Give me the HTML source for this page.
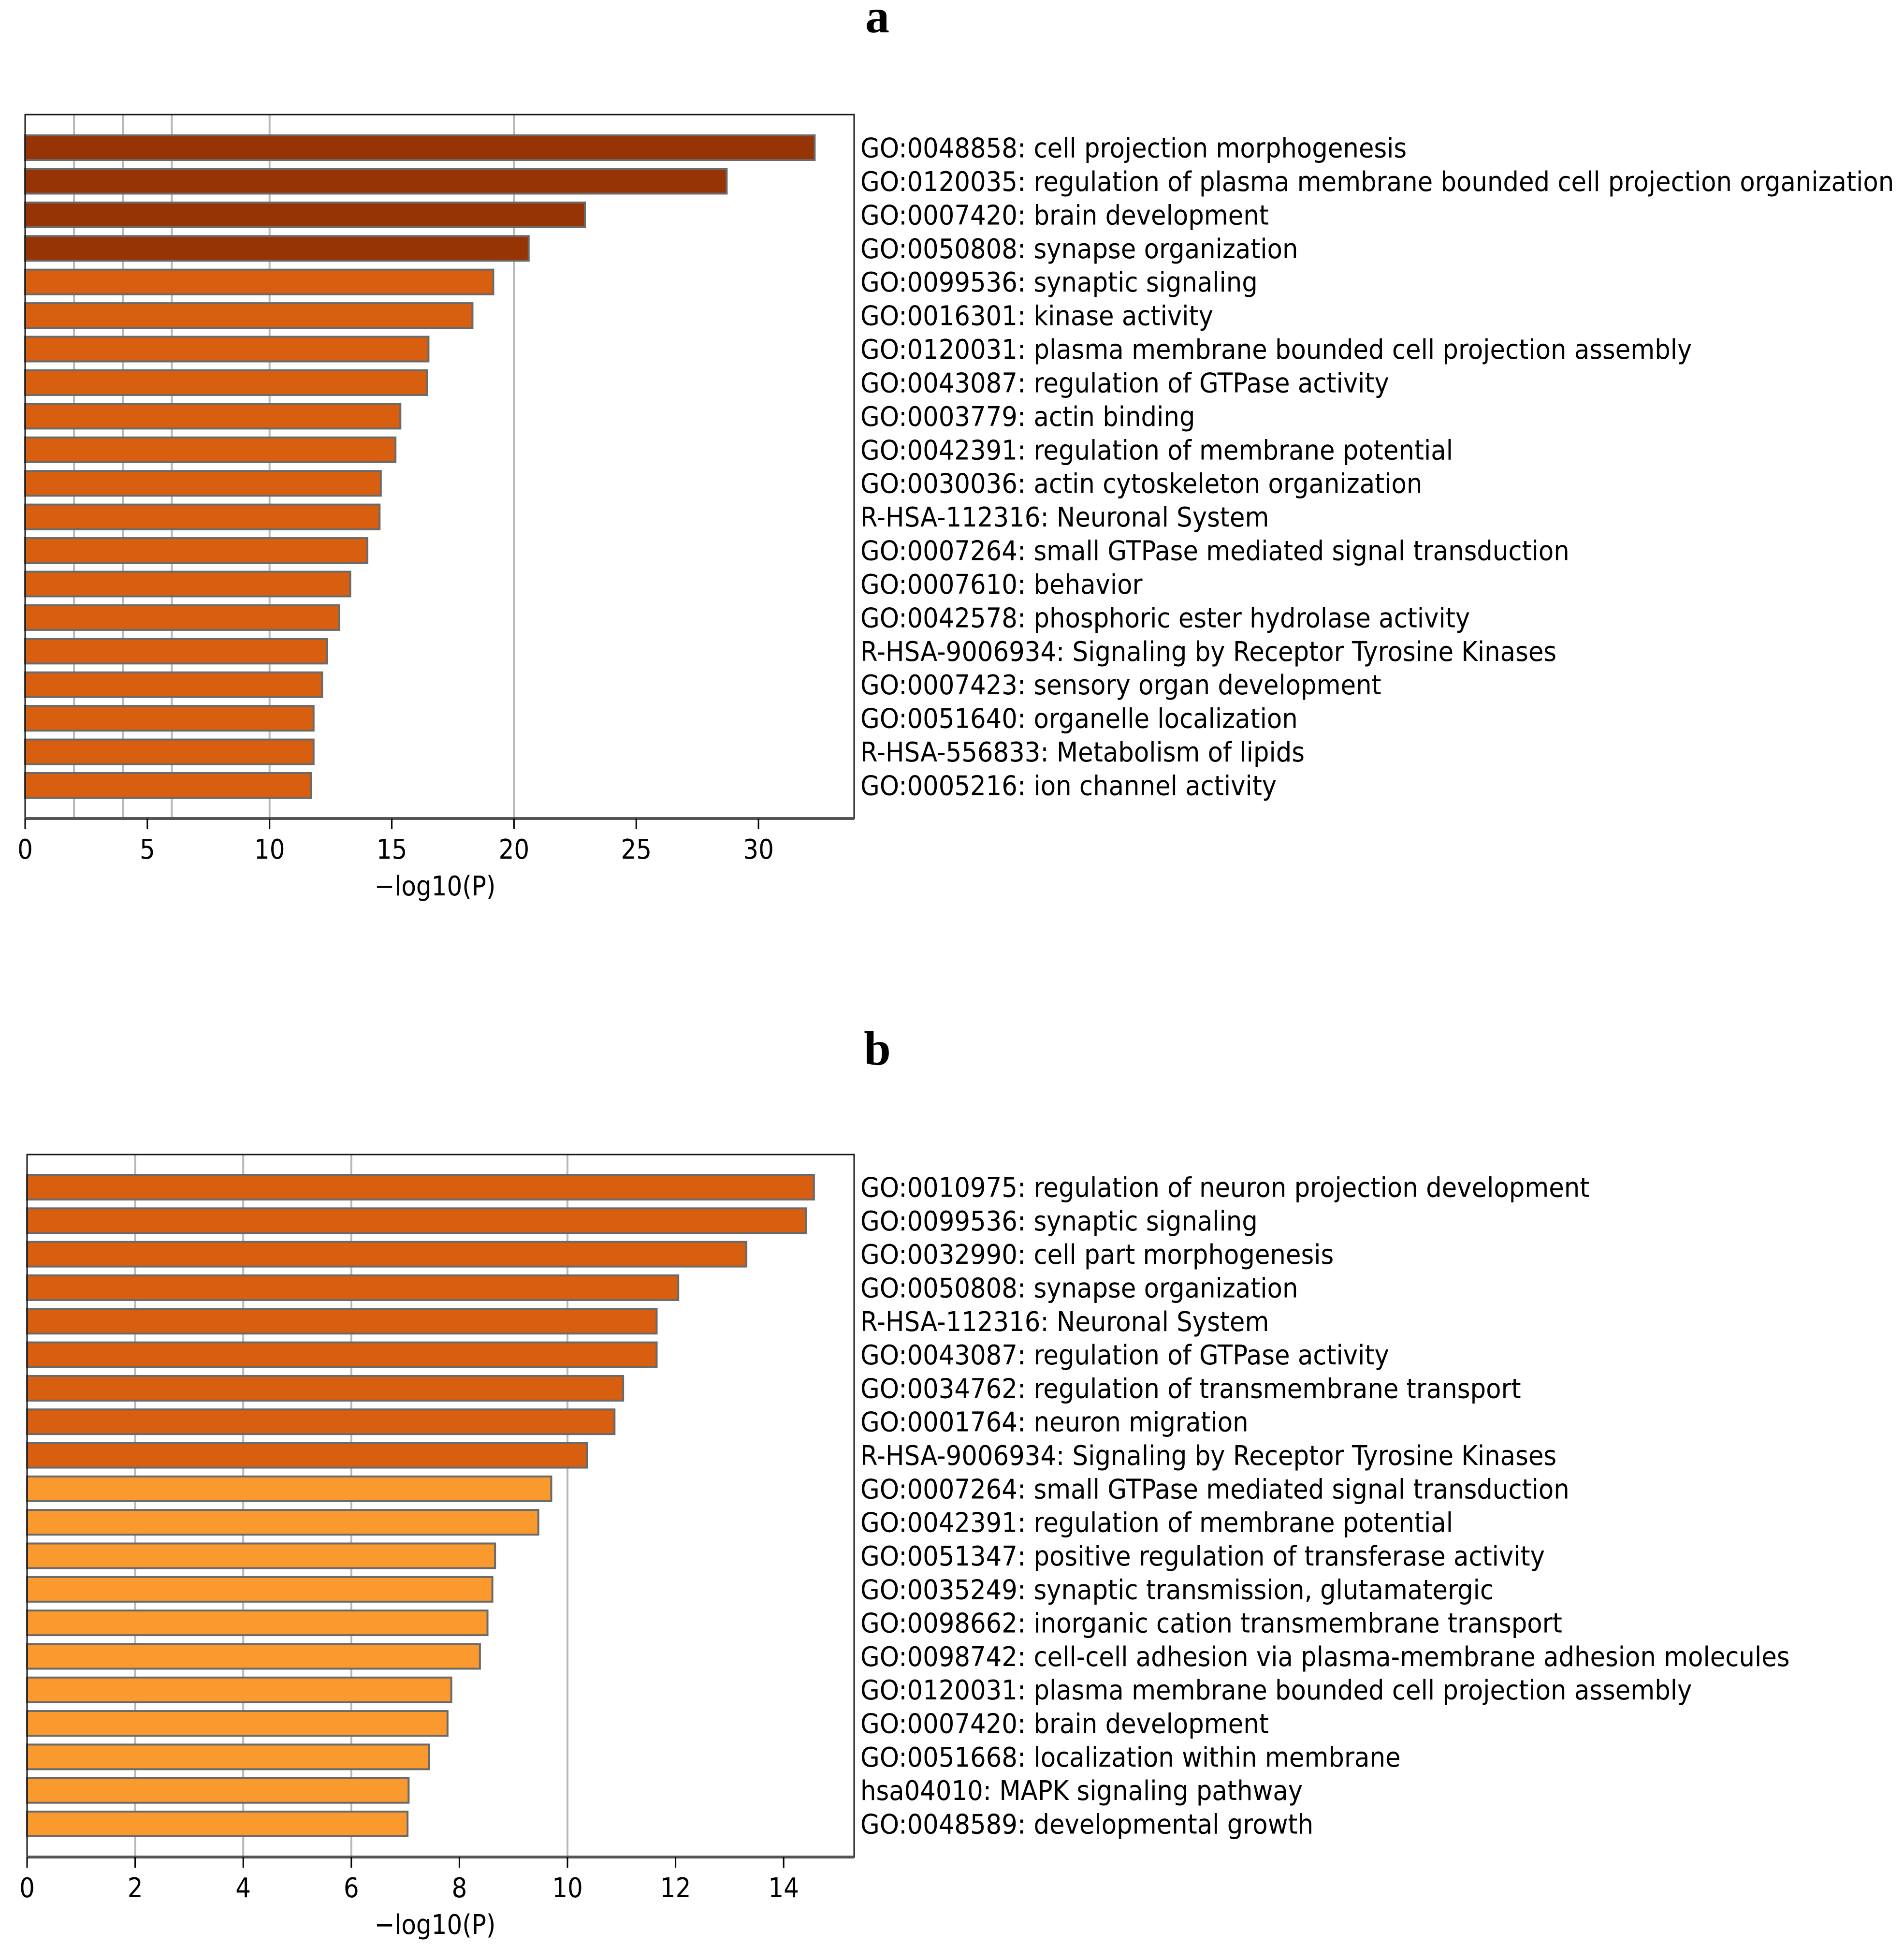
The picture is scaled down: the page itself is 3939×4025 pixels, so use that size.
<!DOCTYPE html>
<html><head><meta charset="utf-8"><style>
html,body{margin:0;padding:0;background:#fff;}
svg{display:block;}
text{font-family:"DejaVu Sans","Liberation Sans",sans-serif;fill:#000;}
.ttl{font-family:"Liberation Serif",serif;font-weight:bold;font-size:100px;}
</style></head><body>
<svg id="fig" width="3939" height="4025" viewBox="0 0 3939 4025" xmlns="http://www.w3.org/2000/svg">
<text class="ttl" x="1815" y="67" text-anchor="middle">a</text>
<text class="ttl" x="1815" y="2202" text-anchor="middle">b</text>
<g id="chartA"></g>
<g id="chartB"></g>
</svg>
<script>
const termsA = ["GO:0048858: cell projection morphogenesis","GO:0120035: regulation of plasma membrane bounded cell projection organization","GO:0007420: brain development","GO:0050808: synapse organization","GO:0099536: synaptic signaling","GO:0016301: kinase activity","GO:0120031: plasma membrane bounded cell projection assembly","GO:0043087: regulation of GTPase activity","GO:0003779: actin binding","GO:0042391: regulation of membrane potential","GO:0030036: actin cytoskeleton organization","R-HSA-112316: Neuronal System","GO:0007264: small GTPase mediated signal transduction","GO:0007610: behavior","GO:0042578: phosphoric ester hydrolase activity","R-HSA-9006934: Signaling by Receptor Tyrosine Kinases","GO:0007423: sensory organ development","GO:0051640: organelle localization","R-HSA-556833: Metabolism of lipids","GO:0005216: ion channel activity"];
const valuesA = [32.3,28.7,22.9,20.6,19.15,18.3,16.5,16.45,15.35,15.15,14.55,14.5,14.0,13.3,12.85,12.35,12.15,11.8,11.8,11.7];
const tierA = [2,2,2,2,1,1,1,1,1,1,1,1,1,1,1,1,1,1,1,1];
const ticksA = [0,5,10,15,20,25,30];
const gridA = [2,4,6,10,20];

const termsB = ["GO:0010975: regulation of neuron projection development","GO:0099536: synaptic signaling","GO:0032990: cell part morphogenesis","GO:0050808: synapse organization","R-HSA-112316: Neuronal System","GO:0043087: regulation of GTPase activity","GO:0034762: regulation of transmembrane transport","GO:0001764: neuron migration","R-HSA-9006934: Signaling by Receptor Tyrosine Kinases","GO:0007264: small GTPase mediated signal transduction","GO:0042391: regulation of membrane potential","GO:0051347: positive regulation of transferase activity","GO:0035249: synaptic transmission, glutamatergic","GO:0098662: inorganic cation transmembrane transport","GO:0098742: cell-cell adhesion via plasma-membrane adhesion molecules","GO:0120031: plasma membrane bounded cell projection assembly","GO:0007420: brain development","GO:0051668: localization within membrane","hsa04010: MAPK signaling pathway","GO:0048589: developmental growth"];
const valuesB = [14.56,14.41,13.31,12.05,11.65,11.65,11.03,10.87,10.36,9.7,9.46,8.66,8.61,8.52,8.38,7.85,7.78,7.44,7.06,7.04];
const tierB = [1,1,1,1,1,1,1,1,1,0,0,0,0,0,0,0,0,0,0,0];
const ticksB = [0,2,4,6,8,10,12,14];
const gridB = [2,4,6,10];

const COLORS = ["#fa992e","#d85f10","#963406"];
const NS = "http://www.w3.org/2000/svg";
function mk(tag, attrs, parent){const e=document.createElementNS(NS,tag);for(const k in attrs)e.setAttribute(k,attrs[k]);parent.appendChild(e);return e;}

function draw(g, cfg, terms, values, tiers, ticks, grid){
  const x = v => cfg.left + (v - 0) * cfg.unit;
  const n = values.length;
  const pitch = (cfg.lastTop - cfg.firstTop) / (n - 1);
  const barH = 55;
  grid.forEach(v=>{
    const l = mk('line',{x1:x(v),x2:x(v),y1:cfg.top,y2:cfg.bottom,stroke:'#b8b8b8','stroke-width':4},g);
    
    
  });
  values.forEach((v,i)=>{
    const y = cfg.firstTop + i*pitch;
    const r = mk('rect',{x:cfg.left,y:y+2,width:x(v)-cfg.left,height:barH-4,fill:COLORS[tiers[i]],stroke:'#6a6a6a','stroke-width':4},g);
    
    
    const t = mk('text',{transform:'translate('+cfg.labelX+','+(y+barH/2+20)+') scale(1,1.09)','font-size':51.3},g);
    t.textContent = terms[i];
    
    
  });
  const f = mk('rect',{x:cfg.left,y:cfg.top,width:cfg.right-cfg.left,height:cfg.bottom-cfg.top,fill:'none',stroke:'#1a1a1a','stroke-width':3},g);
  
  
  const bx = mk('line',{x1:cfg.left,x2:cfg.right,y1:cfg.bottom,y2:cfg.bottom,stroke:'#555','stroke-width':6},g);
  
  
  ticks.forEach(v=>{
    const tk = mk('line',{x1:x(v),x2:x(v),y1:cfg.bottom,y2:cfg.bottom+22,stroke:'#000','stroke-width':3},g);
    
    
    const tl = mk('text',{transform:'translate('+x(v)+','+cfg.tickY+') scale(1,1.12)','font-size':50,'text-anchor':'middle'},g);
    tl.textContent = String(v);
    
    
  });
  const at = mk('text',{transform:'translate('+cfg.titleX+','+cfg.titleY+') scale(1,1.12)','font-size':50,'text-anchor':'middle'},g);
  at.textContent = '\u2212log10(P)';
  
  
}

draw(document.getElementById('chartA'),
  {left:52,right:1767,top:237,bottom:1693,unit:50.57,firstTop:278,lastTop:1597,labelX:1780,tickY:1776,titleX:900,titleY:1852},
  termsA, valuesA, tierA, ticksA, gridA);
draw(document.getElementById('chartB'),
  {left:56,right:1767,top:2388,bottom:3841,unit:111.8,firstTop:2428,lastTop:3745,labelX:1780,tickY:3924,titleX:900,titleY:4000},
  termsB, valuesB, tierB, ticksB, gridB);
</script>
</body></html>
